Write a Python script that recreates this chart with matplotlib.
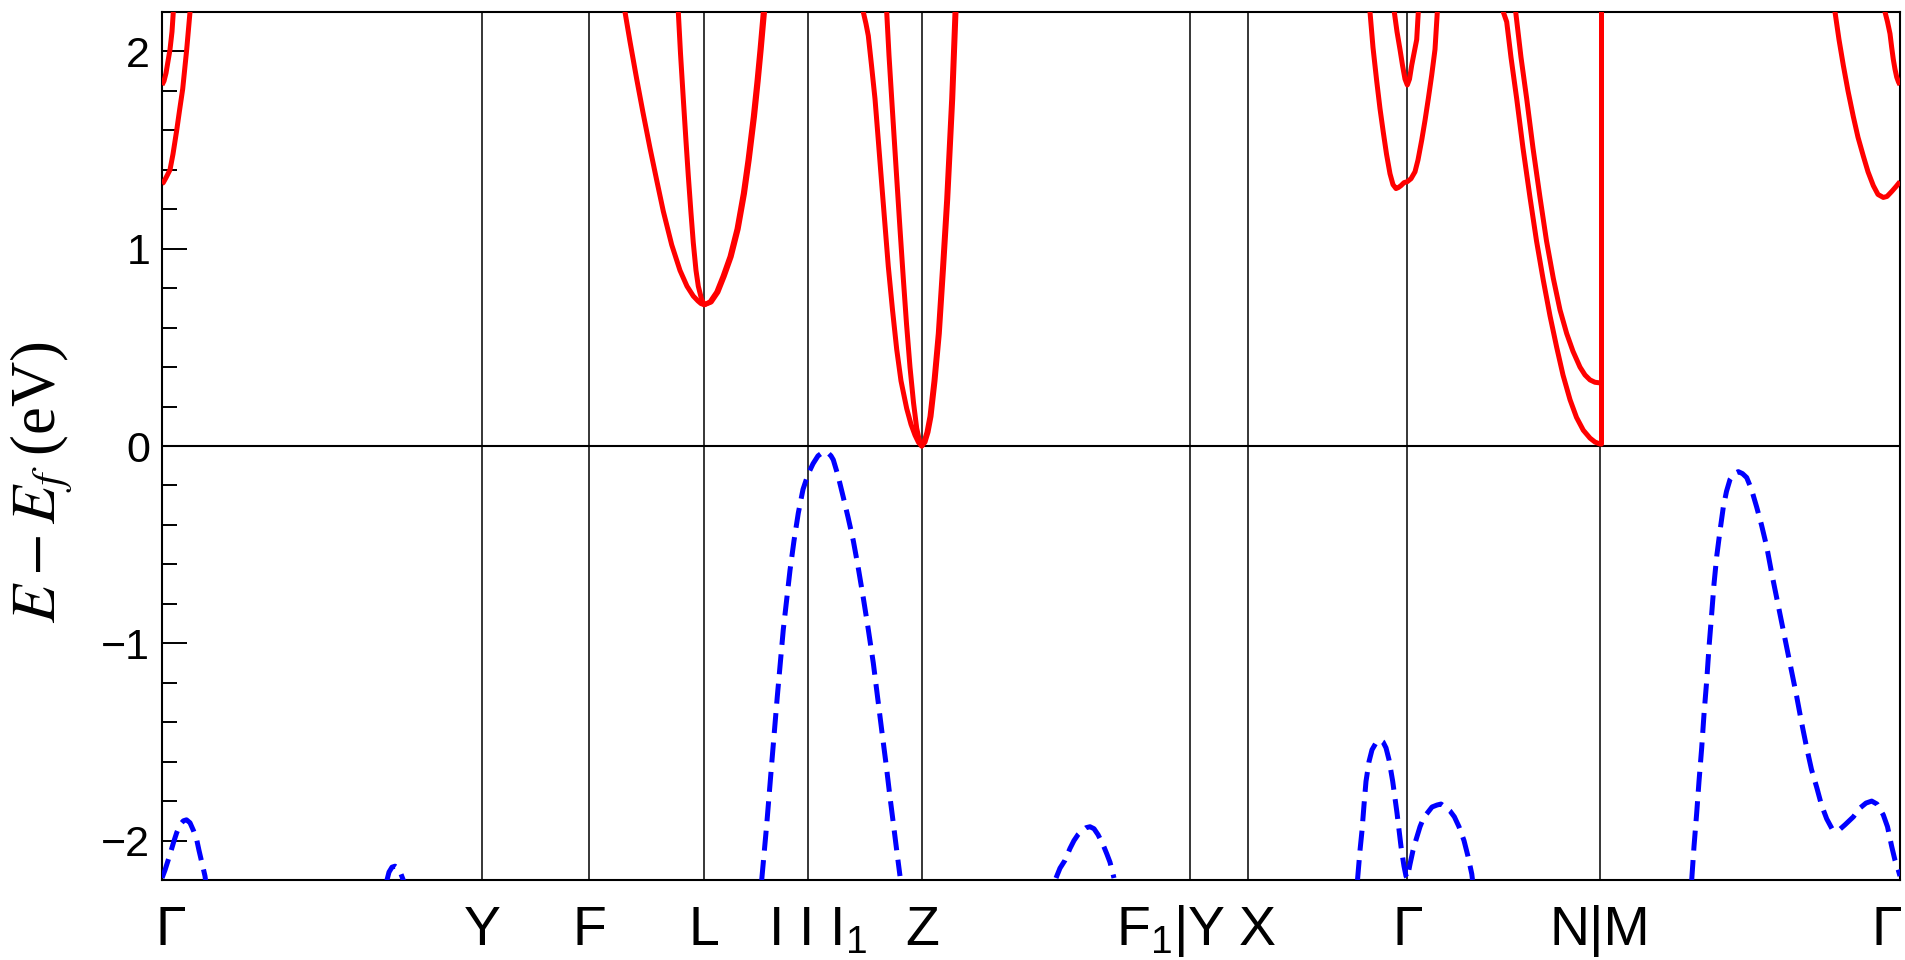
import matplotlib
matplotlib.use('Agg')
import matplotlib.pyplot as plt
from matplotlib import transforms
from matplotlib.ticker import MultipleLocator

plt.rcParams['font.family'] = ['Liberation Sans', 'DejaVu Sans']
plt.rcParams['mathtext.fontset'] = 'custom'
plt.rcParams['mathtext.rm'] = 'Liberation Sans'
plt.rcParams['mathtext.it'] = 'Liberation Sans:italic'
plt.rcParams['mathtext.bf'] = 'Liberation Sans:bold'
plt.rcParams['axes.unicode_minus'] = True

# ---------------- data ----------------
kpoint_pos = [0, 320, 427, 542.3, 646, 759.7, 1028, 1086, 1245.3, 1438, 1738]
kpoint_labels = ['Γ', 'Y', 'F', 'L', 'I I I$_1$', 'Z', 'F$_1$|Y', 'X', 'Γ', 'N|M', 'Γ']
label_shift_px = [9, 0, 0, 0, 10, 0, -19, 9, 0, 0, -13]

y_ticks = [-2, -1, 0, 1, 2]

# conduction bands (solid red)
cb1_k = [0, 2, 4, 6, 8, 10, 11.3, 13]
cb1_e = [1.83, 1.85, 1.89, 1.95, 2.01, 2.10, 2.2, 2.3]

cb2_k = [0, 1.3, 4, 8, 11, 14.7, 17.5, 20.7, 22.7, 24.7, 28, 29]
cb2_e = [1.33, 1.335, 1.36, 1.40, 1.48, 1.60, 1.70, 1.81, 1.91, 2.01, 2.2, 2.26]

cb3_k = [461, 463, 468, 474.7, 481, 488, 495, 501.3, 509.7, 518, 525, 531.3, 536, 539, 542.3,
         548, 554.7, 561, 568, 575, 581.3, 586, 591.3, 595, 598, 601.3, 602.5]
cb3_e = [2.26, 2.2, 2.05, 1.86, 1.69, 1.51, 1.34, 1.19, 1.02, 0.89, 0.81, 0.76, 0.735, 0.722, 0.716,
         0.73, 0.78, 0.86, 0.96, 1.10, 1.28, 1.45, 1.67, 1.85, 2.01, 2.2, 2.26]

cb4_k = [515.7, 516.3, 518.5, 521.3, 524, 526.3, 529, 531.3, 534, 536.3, 539.5, 542.3,
         549.2, 555.9, 562.2, 569.2, 576.2, 582.5, 587.2, 592.5, 596.2, 599.2, 602.5, 603.7]
cb4_e = [2.26, 2.2, 1.99, 1.76, 1.545, 1.37, 1.18, 1.03, 0.89, 0.81, 0.745, 0.716,
         0.73, 0.78, 0.86, 0.96, 1.10, 1.28, 1.45, 1.67, 1.85, 2.01, 2.2, 2.26]

cb5_k = [700.5, 701.3, 704, 706.3, 709.5, 713, 716.3, 719.7, 723, 726.3, 730.5, 734.7, 739, 744.7,
         749, 753, 756.5, 759.7, 762, 765, 768, 772, 776.3, 780.5, 784.7, 789.7, 793, 793.7]
cb5_e = [2.26, 2.2, 2.14, 2.08, 1.93, 1.76, 1.55, 1.33, 1.12, 0.91, 0.69, 0.49, 0.33, 0.19,
         0.11, 0.055, 0.018, 0.0, 0.02, 0.07, 0.15, 0.33, 0.57, 0.90, 1.25, 1.76, 2.2, 2.26]

cb6_k = [724.4, 724.7, 727, 729.7, 732, 734.7, 738, 741.3, 744.5, 748, 751.5, 754.7, 757.5, 759.7,
         763, 766, 769, 773, 777.3, 781.5, 785.7, 790.7, 794, 794.7]
cb6_e = [2.26, 2.2, 1.98, 1.76, 1.575, 1.36, 1.10, 0.85, 0.62, 0.40, 0.22, 0.09, 0.025, 0.0,
         0.02, 0.07, 0.15, 0.33, 0.57, 0.90, 1.25, 1.76, 2.2, 2.26]

cb7_k = [1207.5, 1208, 1211, 1214.7, 1218, 1221.3, 1224.5, 1228, 1231, 1234, 1236.3, 1239, 1242,
         1245.3, 1249, 1253, 1256, 1259.7, 1263, 1266.3, 1269.7, 1273, 1275.3, 1275.8]
cb7_e = [2.26, 2.2, 2.02, 1.85, 1.71, 1.59, 1.48, 1.38, 1.325, 1.305, 1.31, 1.32, 1.335,
         1.34, 1.355, 1.39, 1.45, 1.55, 1.65, 1.76, 1.88, 2.01, 2.2, 2.26]

cb8_k = [1232, 1232.3, 1235, 1238, 1240.5, 1243, 1245.3, 1247.5, 1249.7, 1252, 1254.7, 1256.3, 1256.6]
cb8_e = [2.26, 2.2, 2.1, 2.01, 1.93, 1.86, 1.83, 1.86, 1.93, 1.99, 2.06, 2.2, 2.26]

cb9_k = [1341, 1341.3, 1344.7, 1349, 1354.7, 1361, 1368, 1374.5, 1381.3, 1388, 1394.7, 1401, 1408,
         1414.5, 1421.3, 1428, 1433, 1438, 1439.5, 1439.5]
cb9_e = [2.26, 2.2, 2.15, 1.97, 1.76, 1.51, 1.26, 1.04, 0.84, 0.66, 0.50, 0.36, 0.235,
         0.145, 0.08, 0.04, 0.02, 0.01, 0.01, 2.5]

cb10_k = [1353.5, 1353.7, 1359, 1364.7, 1371, 1378, 1384.5, 1391.3, 1398, 1404.7, 1411, 1418,
          1423, 1428, 1433, 1438]
cb10_e = [2.26, 2.2, 1.97, 1.76, 1.51, 1.26, 1.04, 0.85, 0.69, 0.57, 0.48, 0.40,
          0.36, 0.335, 0.323, 0.32]

cb11_k = [1672.5, 1673, 1677, 1681.3, 1686, 1691.3, 1696, 1701.3, 1706, 1711.3, 1716, 1721.3,
          1725, 1729.7, 1734, 1738]
cb11_e = [2.26, 2.2, 2.06, 1.93, 1.80, 1.67, 1.565, 1.47, 1.39, 1.32, 1.275, 1.26,
          1.265, 1.29, 1.315, 1.34]

cb12_k = [1722.8, 1723, 1725.5, 1728, 1729.7, 1731.3, 1733, 1734.7, 1736.5, 1738]
cb12_e = [2.26, 2.2, 2.15, 2.09, 2.02, 1.96, 1.91, 1.87, 1.845, 1.83]

# valence bands (dashed blue)
vb1_k = [0, 3, 8, 11.5, 14.7, 18, 21.4, 24.5, 28, 31.5, 34.9, 37, 39.3, 41.2, 43, 44]
vb1_e = [-2.19, -2.15, -2.07, -2.01, -1.96, -1.92, -1.90, -1.895, -1.91, -1.95, -2.0,
         -2.05, -2.10, -2.14, -2.18, -2.22]

vb2_k = [224.5, 227, 230, 233, 236, 239, 242]
vb2_e = [-2.21, -2.16, -2.135, -2.13, -2.14, -2.17, -2.21]

vb3_k = [599.7, 604.7, 609.7, 615.3, 621.3, 628, 632, 636.3, 641, 646.3, 651, 656, 660, 663,
         666, 669, 671.3, 676, 681.3, 686, 691.3, 696, 701.3, 706, 711.3, 715.5, 719.7,
         724, 728, 731.5, 734.7, 738]
vb3_e = [-2.2, -1.92, -1.61, -1.27, -0.93, -0.63, -0.48, -0.34, -0.22, -0.14, -0.09, -0.05,
         -0.035, -0.03, -0.035, -0.05, -0.07, -0.15, -0.26, -0.36, -0.48, -0.61, -0.77, -0.92,
         -1.10, -1.27, -1.44, -1.61, -1.78, -1.92, -2.05, -2.18]

vb4_k = [894, 898, 903, 908, 912, 916, 920, 924, 928, 932, 936, 941, 945, 948, 950, 952]
vb4_e = [-2.19, -2.14, -2.10, -2.04, -2.0, -1.97, -1.95, -1.935, -1.93, -1.94, -1.97,
         -2.02, -2.07, -2.11, -2.15, -2.19]

vb5_k = [1195.5, 1198, 1200, 1202, 1204, 1207, 1210, 1214, 1218, 1221, 1224, 1227, 1230.7,
         1235, 1239, 1242, 1244, 1245.3, 1248, 1251, 1253.8, 1258, 1262, 1265.4, 1270, 1275,
         1279, 1283, 1288, 1292.4, 1297, 1302, 1306, 1309.8, 1310.5]
vb5_e = [-2.2, -2.05, -1.95, -1.82, -1.70, -1.60, -1.54, -1.505, -1.49, -1.50, -1.53, -1.59,
         -1.70, -1.86, -2.03, -2.13, -2.18, -2.19, -2.12, -2.05, -2.0, -1.93, -1.88, -1.86,
         -1.83, -1.82, -1.815, -1.83, -1.85, -1.88, -1.93, -2.0, -2.08, -2.17, -2.2]

vb6_k = [1529.7, 1532, 1534.7, 1537, 1539.7, 1542, 1544.7, 1547, 1549.7, 1552, 1554.7, 1558,
         1561.3, 1564.5, 1568, 1572, 1576.3, 1580.5, 1584.7, 1589.5, 1594.7, 1599.5, 1604.7,
         1609.5, 1614.7, 1619.5, 1624.7, 1629.5, 1634.7, 1639.5, 1644.7, 1649.5, 1654.7,
         1659.5, 1664.7, 1670, 1676.3, 1683, 1691.3, 1698, 1704, 1709.7, 1715, 1721.3,
         1725.5, 1729.7, 1733, 1736.3, 1738]
vb6_e = [-2.2, -2.03, -1.86, -1.70, -1.53, -1.36, -1.19, -1.02, -0.85, -0.70, -0.56, -0.43,
         -0.31, -0.23, -0.17, -0.14, -0.13, -0.14, -0.16, -0.22, -0.31, -0.40, -0.51,
         -0.64, -0.77, -0.89, -1.02, -1.14, -1.27, -1.40, -1.53, -1.64, -1.73,
         -1.82, -1.89, -1.94, -1.95, -1.92, -1.88, -1.835, -1.81, -1.80, -1.815, -1.87,
         -1.93, -2.03, -2.10, -2.15, -2.18]

conduction = [(cb1_k, cb1_e), (cb2_k, cb2_e), (cb3_k, cb3_e), (cb4_k, cb4_e),
              (cb5_k, cb5_e), (cb6_k, cb6_e), (cb7_k, cb7_e), (cb8_k, cb8_e),
              (cb9_k, cb9_e), (cb10_k, cb10_e), (cb11_k, cb11_e), (cb12_k, cb12_e)]
valence = [(vb1_k, vb1_e), (vb2_k, vb2_e), (vb3_k, vb3_e), (vb4_k, vb4_e),
           (vb5_k, vb5_e), (vb6_k, vb6_e)]

# ---------------- figure ----------------
fig = plt.figure(figsize=(19.05, 9.6), dpi=100)
ax = fig.add_axes([162 / 1905, 80 / 960, 1738 / 1905, 868 / 960])

for x in kpoint_pos[1:-1]:
    ax.axvline(x, color='black', lw=1.1, zorder=1)
ax.axhline(0, color='black', lw=1.5, zorder=1)

for k, e in conduction:
    ax.plot(k, e, color='#ff0000', lw=3.6, solid_capstyle='butt',
            solid_joinstyle='round', zorder=3)
for k, e in valence:
    ax.plot(k, e, color='#0000ff', lw=3.6, ls=(0, (4, 1.9)), dash_capstyle='butt', zorder=3)

ax.set_xlim(kpoint_pos[0], kpoint_pos[-1])
ax.set_ylim(-2.2, 2.2)

ax.set_xticks([])
ax.set_yticks(y_ticks)
ax.yaxis.set_minor_locator(MultipleLocator(0.2))
ax.tick_params(axis='y', which='major', direction='in', length=18, width=1.4,
               labelsize=31, pad=8.5, right=False)
ax.tick_params(axis='y', which='minor', direction='in', length=11, width=1.4, right=False)
for s in ax.spines.values():
    s.set_linewidth(1.5)

trans = transforms.blended_transform_factory(ax.transData, ax.transAxes)
for pos, lab, sh in zip(kpoint_pos, kpoint_labels, label_shift_px):
    t = transforms.offset_copy(trans, fig=fig, x=sh * 72 / 100, y=0, units='points')
    ax.text(pos, -0.0749, lab, transform=t, ha='center', va='baseline',
            fontsize=40, clip_on=False)

ax.set_ylabel(r'$E - E_f$ (eV)', fontsize=45, fontfamily='Liberation Serif',
              math_fontfamily='stix', va='center')
ax.yaxis.set_label_coords(-0.069, 0.4585)

fig.savefig('out.png', dpi=100)
